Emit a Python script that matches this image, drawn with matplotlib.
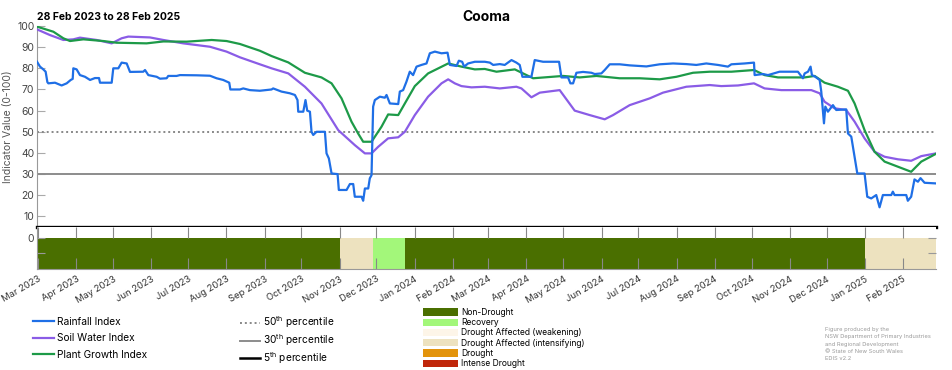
import numpy as np
import pandas as pd
import matplotlib
matplotlib.use("Agg")
import matplotlib.pyplot as plt
import matplotlib.dates as mdates
from matplotlib.lines import Line2D
from matplotlib.patches import Patch

# days since 28 Feb 2023
rain_day = [0, 2.4, 5.1, 7.0, 8.4, 9.2, 14.6, 20, 24.1, 27.4, 29, 29.5, 32.2, 34.9, 39, 43.1, 47.1, 50.4, 51.2,
            60.7, 62, 66.1, 68.8, 72.9, 75.6, 86.4, 87.8, 90.5, 97.3, 100, 105.4, 106.7, 113.5, 116.2, 129.8,
            140.6, 146, 151.4, 156.3, 157.2, 165, 167.7, 173.1, 181.2, 190.7, 192, 198.8, 205.6, 209.7, 211.8,
            212.4, 216.5, 218.3, 219.7, 221.9, 223.2, 224.6, 227.3, 234.1, 235.4, 237.3, 239.5, 244.4, 245.4,
            251.7, 254.4, 257.1, 258.4, 263.9, 265.2, 266.6, 269.3, 270.6, 272, 273.3, 274.7, 278.8, 282.8,
            284.2, 286.9, 293.7, 295, 297.7, 300.4, 303.1, 305.8, 308.6, 312.6, 316.7, 319.4, 323.5, 328.9,
            333.8, 335.7, 341.1, 343, 345.7, 347.3, 350.5, 356, 364.1, 368.2, 370.9, 376.3, 380.3, 385.8,
            389.8, 392.5, 394.7, 402, 404.7, 407.4, 411.5, 424.5, 426.4, 431.8, 433.7, 435.9, 438.6, 444,
            450.8, 453.5, 458.9, 461.6, 465.7, 473.8, 481.9, 495.5, 506.3, 517.2, 528, 536.1, 544.2, 553.7,
            561.8, 564.6, 575.4, 583, 583.5, 590.3, 594.4, 603.8, 618.7, 622.8, 624.2, 626.9, 629, 630.1,
            632.8, 636.4, 637.7, 639.9, 641, 643.1, 647.2, 649.9, 658, 659.4, 662.1, 664.8, 667, 672.9,
            675.1, 678.3, 682.4, 685.1, 687.8, 694.6, 695.9, 697.3, 706.8, 708.1, 710.8, 713.5, 716.3,
            718.4, 721.7, 731]
rain_val = [83.1, 80.8, 79.5, 78.4, 73.5, 72.9, 73.2, 71.9, 72.9, 74.5, 75, 80, 79.5, 76.8, 76, 74.5, 75.4, 75.4,
            73.2, 73.2, 80, 80, 82.7, 82.3, 78.3, 78.4, 79.2, 76.8, 76, 75.1, 75.3, 76.4, 76.4, 76.8, 76.7,
            76.5, 75.3, 74.5, 73.2, 70, 70, 70.5, 69.7, 69.4, 70, 70.5, 69, 68.2, 67.4, 65, 59.5, 59.5, 65, 60,
            59.5, 50, 48.5, 50, 50, 39.8, 37.4, 30.3, 30, 22.5, 22.5, 25.3, 25.3, 19.3, 19.3, 17.4, 23.2,
            23.2, 28, 29.5, 61.9, 65, 66.6, 66.1, 67.4, 63.4, 63.1, 69, 69.7, 73.7, 78.4, 76.8, 80.8, 81.6,
            82.3, 87.1, 87.9, 87.1, 87.4, 81.6, 81.1, 83.6, 83.1, 80.8, 82.3, 83.1, 83.1, 82.7, 81.6, 82,
            81.6, 83.9, 82.7, 81.6, 76, 76, 83.9, 83.6, 83.1, 83.1, 75.7, 75.7, 72.9, 72.9, 77.9, 78.3, 77.9,
            77.3, 77.6, 79.2, 81.9, 81.9, 81.4, 80.9, 81.9, 82.3, 82, 81.6, 82.3, 81.6, 80.8, 81.9, 82.3,
            82.7, 76.8, 77.3, 76.8, 78.4, 78.4, 75.3, 77.6, 78.4, 80.8, 76.8, 76, 74.5, 69, 54, 61.9, 59.5,
            62.6, 60.3, 60.6, 49.2, 47.7, 38.2, 30.3, 30.3, 19.3, 18.5, 20.1, 14.3, 20.1, 20.1, 21.7, 20.1,
            20.1, 17.4, 19.3, 27.5, 26.4, 28.1, 25.9, 25.6]

soil_day = [0, 10.6, 21.4, 29.5, 34.9, 48.5, 60.7, 68.8, 74.2, 91.8, 102.7, 118.9, 140.6, 154.1, 165, 181.2,
            190.7, 204.3, 217.8, 231.3, 244.9, 258.4, 266.6, 272, 277.4, 285.5, 293.7, 299.1, 307.2, 318,
            328.9, 334.3, 339.7, 345.1, 353.3, 364.1, 376.3, 389.8, 393.9, 402, 408.8, 425, 437.2, 449.4,
            461.6, 468.4, 481.9, 498.2, 509, 528, 547, 556.4, 570, 583, 591.6, 605.2, 618.7, 629.6, 636.4,
            640.4, 648.5, 658, 664.8, 672.9, 681, 689.2, 700, 710.8, 719, 731]
soil_val = [98.4, 95.7, 93.4, 93.7, 94.5, 93.4, 91.8, 94.2, 95, 94.6, 93.4, 91.8, 90.2, 87.9, 85.2, 81.9,
            80, 77.6, 71.3, 63.4, 50.8, 43.7, 39.8, 39.8, 42.9, 46.9, 47.4, 50, 57.9, 66.6,
            72.9, 74.8, 72.9, 71.6, 71, 71.3, 70.5, 71.3, 70.5, 66.3, 68.5, 69.7, 60, 57.9,
            55.9, 57.9, 62.6, 65.8, 68.5, 71.3, 72.1, 71.6, 71.9, 72.9, 70.5, 69.7, 69.7, 69.7, 68.2,
            64.2, 61.1, 60.3, 54.8, 46.9, 40.6, 38.2, 37, 36.3, 38.5, 39.8]

plant_day = [0, 13.3, 21.4, 26.8, 37.7, 53.9, 64.7, 89.1, 102.7, 121.6, 142, 154.1, 165, 181.2, 190.7, 204.3,
             217.8, 231.3, 239.5, 247.6, 255.7, 261.1, 265.2, 272, 280.1, 285.5, 293.7, 299.1, 307.2, 318,
             334.3, 345.1, 356, 364.1, 373.6, 388.5, 395.2, 403.4, 427.8, 441.3, 454.8, 473.8, 490.1, 506.3,
             519.9, 533.4, 547, 564.6, 583, 591.6, 602.5, 624.2, 632.3, 640.4, 651.2, 659.4, 664.8, 672.9,
             681, 689.2, 700, 710.8, 719, 731]
plant_val = [99.7, 97.3, 94.2, 92.9, 93.7, 92.9, 92.1, 91.8, 92.7, 92.6, 93.4, 92.9, 91.5, 88.3, 85.8, 82.8,
             77.9, 75.7, 72.9, 65.8, 54.8, 49.2, 45.3, 45.3, 52.4, 58.2, 57.9, 63.4, 71.6, 77.6,
             82.3, 80.8, 79.5, 79.7, 78.4, 79.5, 77.6, 75.3, 76.4, 75.7, 76.4, 75.3, 75.3, 74.8,
             76, 77.9, 78.4, 78.4, 79.2, 76.8, 75.7, 75.7, 76.4, 73.2, 71.3, 69.4, 63.4, 50.8,
             40.6, 35.9, 33.5, 31.1, 35.9, 39.6]

# drought category periods
drought_start = ["2023-02-28", "2023-11-01", "2023-11-28", "2023-12-24", "2025-01-01"]
drought_end = ["2023-11-01", "2023-11-28", "2023-12-24", "2025-01-01", "2025-02-28"]
drought_cat = ["Non-Drought", "Drought Affected (intensifying)", "Recovery", "Non-Drought",
               "Drought Affected (intensifying)"]

cat_names = ["Non-Drought", "Recovery", "Drought Affected (weakening)", "Drought Affected (intensifying)",
             "Drought", "Intense Drought"]
cat_colors = ["#4a6f00", "#a3f77a", "#fdf5e8", "#ede2bf", "#e3940c", "#c0260a"]

percentiles = [50, 30, 5]

start = pd.Timestamp("2023-02-28")
end = pd.Timestamp("2025-02-28")


def to_dates(days):
    return start + pd.to_timedelta(np.asarray(days), unit="D")


c_rain = "#1f6fe6"
c_soil = "#8a5ce6"
c_plant = "#1d9a48"

plt.rcParams["font.family"] = ["Inter", "DejaVu Sans"]
plt.rcParams["mathtext.fontset"] = "custom"
plt.rcParams["mathtext.rm"] = "Inter"

fig = plt.figure(figsize=(9.52, 3.70), dpi=100)
ax = fig.add_axes([0.0389, 0.3865, 0.9443, 0.5432])
axb = fig.add_axes([0.0389, 0.2730, 0.9443, 0.1135], sharex=ax)

ax.plot(to_dates(rain_day), rain_val, color=c_rain, lw=1.6, zorder=5)
ax.plot(to_dates(soil_day), soil_val, color=c_soil, lw=1.6, zorder=4)
ax.plot(to_dates(plant_day), plant_val, color=c_plant, lw=1.6, zorder=4)

ax.axhline(percentiles[0], color="#888888", lw=1.4, ls=(0, (1, 1.5)), zorder=2)
ax.axhline(percentiles[1], color="#8c8c8c", lw=1.4, zorder=2)
ax.axhline(percentiles[2], color="black", lw=2.4, zorder=6, clip_on=False)

ax.set_xlim(start, end)
ax.set_ylim(5, 100)
ax.set_yticks(np.arange(10, 101, 10))
ax.tick_params(axis="y", direction="in", length=6, color="#aaaaaa", labelsize=7.5, labelcolor="#444444", pad=2)
ax.tick_params(axis="x", bottom=False, labelbottom=False)
for s in ["top", "right", "bottom"]:
    ax.spines[s].set_visible(False)
ax.spines["left"].set_color("#999999")
ax.set_ylabel("Indicator Value (0-100)", fontsize=7.5, color="#555555", labelpad=3)

# drought category strip
for s0, s1, cat in zip(drought_start, drought_end, drought_cat):
    x0 = mdates.date2num(pd.Timestamp(s0))
    x1 = mdates.date2num(pd.Timestamp(s1))
    axb.broken_barh([(x0, x1 - x0)], (-1, 1), facecolors=cat_colors[cat_names.index(cat)])
axb.set_ylim(-1, 0.355)
axb.set_yticks([0, -0.5])
axb.set_yticklabels(["0", ""])
axb.tick_params(axis="y", direction="in", length=6, color="#999999", labelsize=7.5, labelcolor="#444444",
                pad=2, right=True)
months = pd.date_range("2023-03-01", "2025-02-01", freq="MS")
axb.set_xticks(months)
axb.set_xticklabels([m.strftime("%b %Y") for m in months], rotation=30, ha="right",
                    rotation_mode="anchor", fontsize=6.8, color="#333333")
axb.tick_params(axis="x", direction="in", length=8, top=True, color="#888888", pad=4)
for s in ["top", "right"]:
    axb.spines[s].set_visible(False)
axb.spines["left"].set_color("#999999")
axb.spines["bottom"].set_color("#999999")

fig.text(0.511, 0.955, "Cooma", ha="center", va="center", fontsize=10, fontweight="bold")
fig.text(0.0389, 0.955, "28 Feb 2023 to 28 Feb 2025", ha="left", va="center", fontsize=7.5,
         fontweight="bold")

h1 = [Line2D([], [], color=c_rain, lw=1.6), Line2D([], [], color=c_soil, lw=1.6),
      Line2D([], [], color=c_plant, lw=1.6)]
fig.legend(h1, ["Rainfall Index", "Soil Water Index", "Plant Growth Index"], loc="upper left",
           bbox_to_anchor=(0.035, 0.144), frameon=False, fontsize=7.3, handlelength=2.0,
           handletextpad=0.3, labelspacing=0.65, borderpad=0, borderaxespad=0)

h2 = [Line2D([], [], color="#888888", lw=1.4, ls=(0, (1, 1.5))), Line2D([], [], color="#8c8c8c", lw=1.4),
      Line2D([], [], color="black", lw=1.8)]
fig.legend(h2, [f"{p}$^{{\\mathrm{{th}}}}$ percentile" for p in percentiles], loc="upper left",
           bbox_to_anchor=(0.252, 0.15), frameon=False, fontsize=7.3, handlelength=2.0,
           handletextpad=0.3, labelspacing=0.2, borderpad=0, borderaxespad=0)

h3 = [Patch(facecolor=c) for c in cat_colors]
fig.legend(h3, cat_names, loc="upper left", bbox_to_anchor=(0.444, 0.168), frameon=False, fontsize=6.1,
           handlelength=4.2, handleheight=0.95, handletextpad=0.35, labelspacing=0.15,
           borderpad=0, borderaxespad=0)

fig.text(0.8666, 0.07, "Figure produced by the\nNSW Department of Primary Industries\n"
         "and Regional Development\n\u00a9 State of New South Wales\nEDIS v2.2",
         ha="left", va="center", fontsize=4.1, color="#999999", linespacing=1.6)

fig.savefig("out.png", dpi=100)
